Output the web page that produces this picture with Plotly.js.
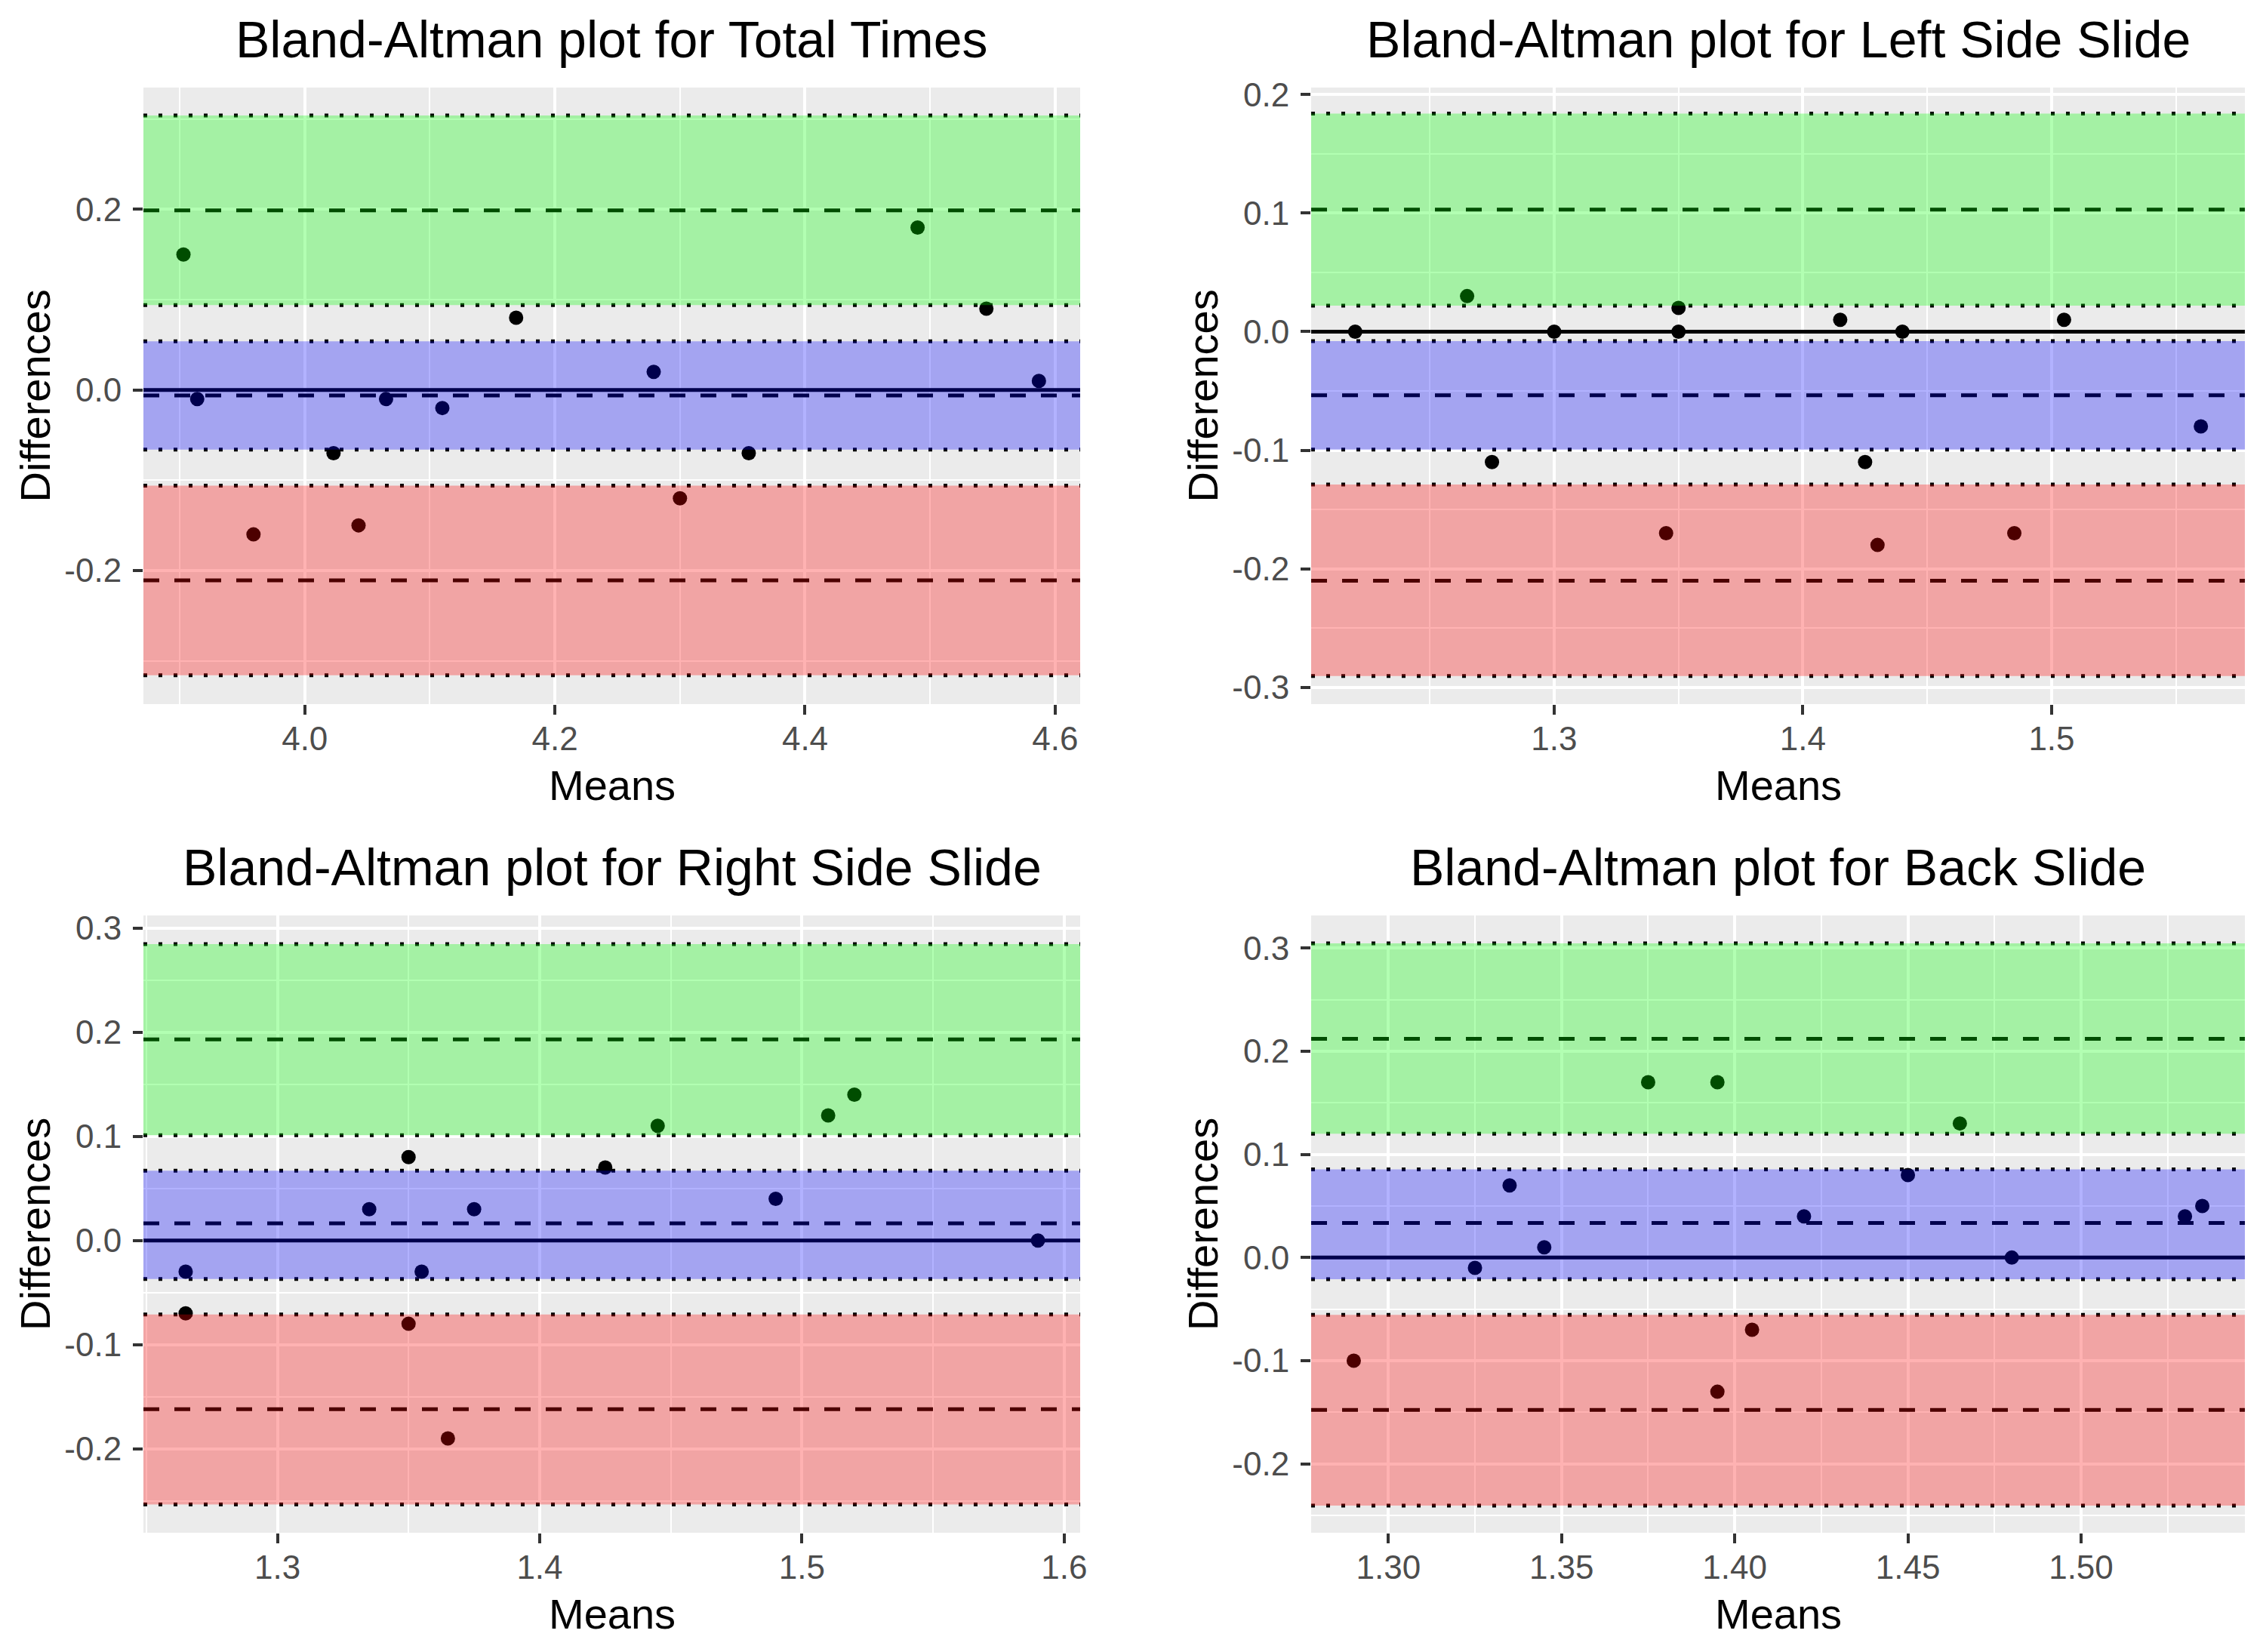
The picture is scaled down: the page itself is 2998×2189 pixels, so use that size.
<!DOCTYPE html>
<html>
<head>
<meta charset="utf-8">
<script src="https://cdn.plot.ly/plotly-3.0.1.min.js"></script>
<style>
html, body { margin: 0; padding: 0; background: #ffffff; }
#chart { width: 2998px; height: 2189px; }
</style>
</head>
<body>
<div id="chart"></div>
<script>
// ---------------- DATA ----------------
const panelTitles = [
  "Bland-Altman plot for Total Times",
  "Bland-Altman plot for Left Side Slide",
  "Bland-Altman plot for Right Side Slide",
  "Bland-Altman plot for Back Slide"
];
const xAxisTitle = "Means";
const yAxisTitle = "Differences";

// Panel 1: Total Times
const totalMeans = [3.903, 3.914, 3.959, 4.023, 4.043, 4.065, 4.110, 4.169, 4.279, 4.300, 4.355, 4.490, 4.545, 4.587];
const totalDiffs = [0.15, -0.01, -0.16, -0.07, -0.15, -0.01, -0.02, 0.08, 0.02, -0.12, -0.07, 0.18, 0.09, 0.01];
// [CI low, estimate, CI high]
const totalUpperLoA = [0.094, 0.199, 0.304];
const totalBias     = [-0.066, -0.006, 0.054];
const totalLowerLoA = [-0.316, -0.211, -0.106];
const totalXTicks = [4.0, 4.2, 4.4, 4.6];
const totalXLabels = ["4.0", "4.2", "4.4", "4.6"];
const totalYTicks = [-0.2, 0.0, 0.2];
const totalYLabels = ["-0.2", "0.0", "0.2"];

// Panel 2: Left Side Slide
const leftMeans = [1.22, 1.265, 1.275, 1.30, 1.345, 1.35, 1.35, 1.415, 1.425, 1.43, 1.44, 1.485, 1.505, 1.56];
const leftDiffs = [0.00, 0.03, -0.11, 0.00, -0.17, 0.02, 0.00, 0.01, -0.11, -0.18, 0.00, -0.17, 0.01, -0.08];
const leftUpperLoA = [0.022, 0.103, 0.184];
const leftBias     = [-0.0995, -0.0537, -0.008];
const leftLowerLoA = [-0.2905, -0.2102, -0.129];
const leftXTicks = [1.3, 1.4, 1.5];
const leftXLabels = ["1.3", "1.4", "1.5"];
const leftYTicks = [-0.3, -0.2, -0.1, 0.0, 0.1, 0.2];
const leftYLabels = ["-0.3", "-0.2", "-0.1", "0.0", "0.1", "0.2"];

// Panel 3: Right Side Slide
const rightMeans = [1.265, 1.265, 1.335, 1.35, 1.35, 1.355, 1.365, 1.375, 1.425, 1.445, 1.49, 1.51, 1.52, 1.59];
const rightDiffs = [-0.03, -0.07, 0.03, 0.08, -0.08, -0.03, -0.19, 0.03, 0.07, 0.11, 0.04, 0.12, 0.14, 0.00];
const rightUpperLoA = [0.101, 0.193, 0.2845];
const rightBias     = [-0.037, 0.0165, 0.067];
const rightLowerLoA = [-0.2535, -0.162, -0.071];
const rightXTicks = [1.3, 1.4, 1.5, 1.6];
const rightXLabels = ["1.3", "1.4", "1.5", "1.6"];
const rightYTicks = [-0.2, -0.1, 0.0, 0.1, 0.2, 0.3];
const rightYLabels = ["-0.2", "-0.1", "0.0", "0.1", "0.2", "0.3"];

// Panel 4: Back Slide
const backMeans = [1.29, 1.325, 1.335, 1.345, 1.375, 1.395, 1.395, 1.405, 1.42, 1.45, 1.465, 1.48, 1.53, 1.535];
const backDiffs = [-0.10, -0.01, 0.07, 0.01, 0.17, 0.17, -0.13, -0.07, 0.04, 0.08, 0.13, 0.00, 0.04, 0.05];
const backUpperLoA = [0.120, 0.212, 0.3045];
const backBias     = [-0.021, 0.0335, 0.0855];
const backLowerLoA = [-0.2403, -0.1477, -0.0555];
const backXTicks = [1.30, 1.35, 1.40, 1.45, 1.50];
const backXLabels = ["1.30", "1.35", "1.40", "1.45", "1.50"];
const backYTicks = [-0.2, -0.1, 0.0, 0.1, 0.2, 0.3];
const backYLabels = ["-0.2", "-0.1", "0.0", "0.1", "0.2", "0.3"];

const zeroRef = 0;

// ---------------- LAYOUT / STYLE ----------------
const W = 2998, H = 2189;
const FONT = "Liberation Sans, Arial, Helvetica, sans-serif";

const panels = [
  { means: totalMeans, diffs: totalDiffs, up: totalUpperLoA, bias: totalBias, lo: totalLowerLoA,
    xt: totalXTicks, xl: totalXLabels, yt: totalYTicks, yl: totalYLabels,
    xr: [3.871, 4.620], yr: [-0.348, 0.335], xminor: [3.9, 0.2], yminor: [-0.3, 0.2],
    px: [190, 1431], py: [116, 933] },
  { means: leftMeans, diffs: leftDiffs, up: leftUpperLoA, bias: leftBias, lo: leftLowerLoA,
    xt: leftXTicks, xl: leftXLabels, yt: leftYTicks, yl: leftYLabels,
    xr: [1.2023, 1.5777], yr: [-0.3143, 0.2060], xminor: [1.25, 0.1], yminor: [-0.25, 0.1],
    px: [1737, 2974], py: [116, 933] },
  { means: rightMeans, diffs: rightDiffs, up: rightUpperLoA, bias: rightBias, lo: rightLowerLoA,
    xt: rightXTicks, xl: rightXLabels, yt: rightYTicks, yl: rightYLabels,
    xr: [1.2489, 1.6061], yr: [-0.2806, 0.3120], xminor: [1.25, 0.1], yminor: [-0.25, 0.1],
    px: [190, 1431], py: [1213, 2031] },
  { means: backMeans, diffs: backDiffs, up: backUpperLoA, bias: backBias, lo: backLowerLoA,
    xt: backXTicks, xl: backXLabels, yt: backYTicks, yl: backYLabels,
    xr: [1.2777, 1.5473], yr: [-0.2667, 0.3316], xminor: [1.275, 0.05], yminor: [-0.25, 0.1],
    px: [1737, 2974], py: [1213, 2031] }
];

const traces = [];
const shapes = [];
const annotations = [];
const layout = {
  width: W, height: H,
  margin: { l: 0, r: 0, t: 0, b: 0 },
  paper_bgcolor: "#FFFFFF",
  plot_bgcolor: "#EBEBEB",
  showlegend: false,
  font: { family: FONT, color: "#000000" }
};

const LW = 5;
const DOT = "5px,15px";
const DASH = "21px,20px";

panels.forEach((p, i) => {
  const n = i + 1;
  const xa = n === 1 ? "x" : "x" + n;
  const ya = n === 1 ? "y" : "y" + n;
  const xKey = n === 1 ? "xaxis" : "xaxis" + n;
  const yKey = n === 1 ? "yaxis" : "yaxis" + n;

  const xd = [p.px[0] / W, p.px[1] / W];
  const yd = [1 - p.py[1] / H, 1 - p.py[0] / H];

  const axCommon = {
    tickmode: "array",
    ticks: "outside", ticklen: 13, tickwidth: 4, tickcolor: "#333333",
    tickfont: { family: FONT, size: 44, color: "#4D4D4D" },
    showgrid: true, gridcolor: "#FFFFFF", gridwidth: 4,
    zeroline: false, showline: false, fixedrange: true
  };
  layout[xKey] = Object.assign({}, axCommon, {
    domain: xd, anchor: ya, range: p.xr,
    tickvals: p.xt, ticktext: p.xl, ticklabelstandoff: -6,
    minor: { tickmode: "linear", tick0: p.xminor[0], dtick: p.xminor[1], showgrid: true, gridcolor: "#FFFFFF", gridwidth: 2, ticks: "" }
  });
  layout[yKey] = Object.assign({}, axCommon, {
    domain: yd, anchor: xa, range: p.yr,
    tickvals: p.yt, ticktext: p.yl, ticklabelstandoff: 6,
    minor: { tickmode: "linear", tick0: p.yminor[0], dtick: p.yminor[1], showgrid: true, gridcolor: "#FFFFFF", gridwidth: 2, ticks: "" }
  });

  // horizontal reference lines spanning the panel (drawn as traces across the axis range)
  const hline = (yv, dash) => ({
    type: "scatter", mode: "lines", xaxis: xa, yaxis: ya,
    x: [p.xr[0], p.xr[1]], y: [yv, yv],
    line: { color: "#000000", width: LW, dash: dash },
    hoverinfo: "skip"
  });
  traces.push(hline(p.up[1], DASH));
  traces.push(hline(p.bias[1], DASH));
  traces.push(hline(p.lo[1], DASH));
  traces.push(hline(zeroRef, "solid"));
  [p.up[0], p.up[2], p.bias[0], p.bias[2], p.lo[0], p.lo[2]].forEach(v => traces.push(hline(v, DOT)));

  // points (black, tinted by the translucent bands drawn above)
  traces.push({
    type: "scatter", mode: "markers", xaxis: xa, yaxis: ya,
    x: p.means, y: p.diffs,
    marker: { color: "#000000", size: 19, line: { width: 0 } },
    hoverinfo: "x+y"
  });

  const band = (a, b, col) => ({
    type: "rect", layer: "above",
    xref: xa + " domain", x0: 0, x1: 1, yref: ya, y0: a, y1: b,
    fillcolor: col, line: { width: 0 }
  });
  shapes.push(band(p.up[0], p.up[2], "rgba(0,255,0,0.3)"));
  shapes.push(band(p.bias[0], p.bias[2], "rgba(0,0,255,0.3)"));
  shapes.push(band(p.lo[0], p.lo[2], "rgba(255,0,0,0.3)"));

  const cx = (p.px[0] + p.px[1]) / 2 / W;
  const cy = 1 - (p.py[0] + p.py[1]) / 2 / H;
  // panel title
  annotations.push({
    text: panelTitles[i], xref: "paper", yref: "paper",
    x: cx, y: 1 - (p.py[0] - 64) / H, xanchor: "center", yanchor: "middle",
    showarrow: false, font: { family: FONT, size: 68, color: "#000000" }
  });
  // x axis title
  annotations.push({
    text: xAxisTitle, xref: "paper", yref: "paper",
    x: cx, y: 1 - (p.py[1] + 107) / H, xanchor: "center", yanchor: "middle",
    showarrow: false, font: { family: FONT, size: 56, color: "#000000" }
  });
  // y axis title
  annotations.push({
    text: yAxisTitle, xref: "paper", yref: "paper",
    x: (p.px[0] - 144) / W, y: cy, xanchor: "center", yanchor: "middle", textangle: -90,
    showarrow: false, font: { family: FONT, size: 56, color: "#000000" }
  });
});

layout.shapes = shapes;
layout.annotations = annotations;

Plotly.newPlot("chart", traces, layout, { displayModeBar: false, staticPlot: true });
</script>
</body>
</html>
